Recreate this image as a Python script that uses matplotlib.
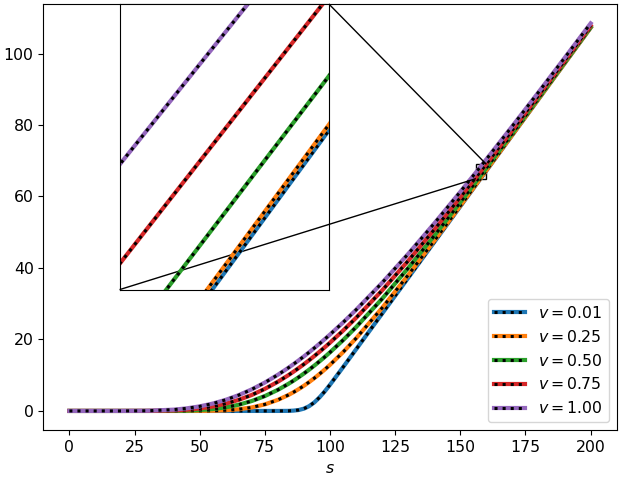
import matplotlib
matplotlib.use("Agg")
import matplotlib.pyplot as plt
from mpl_toolkits.axes_grid1.inset_locator import mark_inset

plt.rcParams["font.size"] = 11.3

s = [0, 10, 20, 30, 40, 45, 50, 55, 60, 65, 70, 75, 80, 84, 86, 88, 90, 92, 94, 96, 98,
     100, 105, 110, 120, 130, 140, 150, 156, 160, 170, 180, 190, 200]

v_labels = ["0.01", "0.25", "0.50", "0.75", "1.00"]

f_001 = [0.00, 0.00, 0.00, 0.00, 0.00, 0.00, 0.00, 0.00, 0.00, 0.00, 0.00, 0.00, 0.00, 0.02,
         0.09, 0.26, 0.64, 1.34, 2.40, 3.81, 5.48, 7.33, 12.23, 17.23, 27.23, 37.23, 47.23,
         57.23, 63.23, 67.23, 77.23, 87.23, 97.23, 107.23]
f_025 = [0.00, 0.00, 0.00, 0.00, 0.00, 0.00, 0.02, 0.06, 0.19, 0.47, 0.98, 1.83, 3.10, 4.45,
         5.24, 6.11, 7.05, 8.08, 9.18, 10.35, 11.59, 12.90, 16.44, 20.32, 28.83, 38.02, 47.61,
         57.41, 63.34, 67.31, 77.27, 87.25, 97.24, 107.23]
f_050 = [0.00, 0.00, 0.00, 0.00, 0.03, 0.09, 0.24, 0.53, 1.01, 1.74, 2.78, 4.16, 5.90, 7.56,
         8.47, 9.44, 10.47, 11.55, 12.69, 13.88, 15.11, 16.39, 19.80, 23.45, 31.39, 39.98, 49.03,
         58.40, 64.14, 67.99, 77.72, 87.55, 97.44, 107.36]
f_075 = [0.00, 0.00, 0.00, 0.01, 0.15, 0.35, 0.70, 1.24, 2.04, 3.11, 4.48, 6.17, 8.17, 9.99,
         10.98, 12.01, 13.08, 14.20, 15.37, 16.57, 17.82, 19.10, 22.46, 26.04, 33.73, 42.01, 50.74,
         59.80, 65.36, 69.11, 78.61, 88.24, 97.97, 107.78]
f_100 = [0.00, 0.00, 0.00, 0.05, 0.36, 0.72, 1.28, 2.06, 3.11, 4.43, 6.04, 7.94, 10.12, 12.06,
         13.09, 14.16, 15.27, 16.42, 17.61, 18.83, 20.09, 21.38, 24.74, 28.28, 35.85, 43.94, 52.46,
         61.31, 66.75, 70.42, 79.72, 89.18, 98.76, 108.44]

series = [f_001, f_025, f_050, f_075, f_100]
colors = ["tab:blue", "tab:orange", "tab:green", "tab:red", "tab:purple"]

fig, ax = plt.subplots(figsize=(6.22, 4.8), dpi=100)
fig.subplots_adjust(left=0.0696, right=0.9915, top=0.9917, bottom=0.1035)

axins = ax.inset_axes([0.133, 0.33, 0.365, 0.67])

handles = []
for y, c, lab in zip(series, colors, v_labels):
    l1, = ax.plot(s, y, color=c, lw=3)
    l2, = ax.plot(s, y, color="k", ls=":", lw=2.2)
    axins.plot(s, y, color=c, lw=3)
    axins.plot(s, y, color="k", ls=":", lw=2.2)
    handles.append(((l1, l2), "$v = %s$" % lab))

ax.legend([h for h, _ in handles], [t for _, t in handles], loc="lower right")
ax.set_xlabel("$s$")

axins.set_xlim(156, 160)
axins.set_ylim(65, 69)
axins.set_xticks([])
axins.set_yticks([])
mark_inset(ax, axins, loc1=1, loc2=3, fc="none", ec="k")

fig.savefig("out.png")
